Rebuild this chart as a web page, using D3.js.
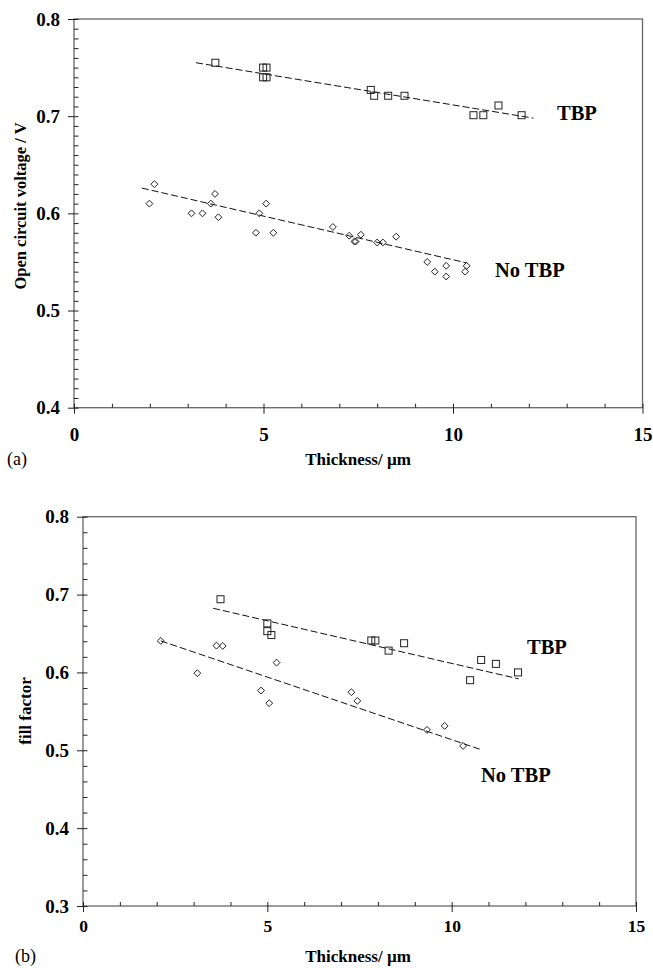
<!DOCTYPE html>
<html>
<head>
<meta charset="utf-8">
<script src="https://cdn.jsdelivr.net/npm/d3@7"></script>
<style>
  html, body { margin: 0; padding: 0; background: #fff; }
  svg { display: block; }
  text { font-family: "Liberation Serif", "Times New Roman", serif; fill: #000; }
</style>
</head>
<body>
<svg id="chart" width="653" height="968"></svg>
<script>
// ---- (a) open circuit voltage vs. film thickness ----
const vocTbpX   = [3.73, 4.99, 5.08, 4.99, 5.08, 7.83, 7.92, 8.29, 8.72, 10.54, 10.80, 11.20, 11.81];
const vocTbpY   = [0.755, 0.750, 0.750, 0.740, 0.740, 0.727, 0.721, 0.721, 0.721, 0.701, 0.701, 0.711, 0.701];
const vocNoTbpX = [1.99, 2.12, 3.10, 3.39, 3.61, 3.72, 3.81, 4.80, 4.89, 5.07, 5.26, 6.83, 7.26, 7.40, 7.43,
                   7.57, 8.00, 8.15, 8.50, 9.32, 9.52, 9.82, 9.82, 10.32, 10.36];
const vocNoTbpY = [0.610, 0.630, 0.600, 0.600, 0.610, 0.620, 0.596, 0.580, 0.600, 0.610, 0.580, 0.586, 0.577, 0.571, 0.571,
                   0.578, 0.570, 0.570, 0.576, 0.550, 0.540, 0.546, 0.535, 0.540, 0.546];
// linear fit end points [x0, y0, x1, y1]
const vocTbpFit   = [3.22, 0.755, 12.12, 0.698];
const vocNoTbpFit = [1.79, 0.626, 10.36, 0.549];

// ---- (b) fill factor vs. film thickness ----
const ffTbpX   = [3.73, 5.00, 5.00, 5.11, 7.82, 7.93, 8.29, 8.71, 10.50, 10.80, 11.20, 11.80];
const ffTbpY   = [0.694, 0.663, 0.653, 0.648, 0.641, 0.641, 0.628, 0.6375, 0.590, 0.616, 0.611, 0.600];
const ffNoTbpX = [2.11, 3.10, 3.62, 3.79, 4.83, 5.05, 5.25, 7.28, 7.44, 9.33, 9.81, 10.31];
const ffNoTbpY = [0.6405, 0.599, 0.6344, 0.634, 0.5767, 0.5605, 0.6126, 0.5746, 0.5634, 0.5262, 0.5313, 0.5056];
const ffTbpFit   = [3.53, 0.6824, 11.82, 0.5917];
const ffNoTbpFit = [2.11, 0.6405, 10.76, 0.5014];

// axis ticks
const xTicks     = [0, 5, 10, 15];
const xMinor     = d3.range(0, 15.001, 1);
const vocTicks   = [0.4, 0.5, 0.6, 0.7, 0.8];
const vocMinor   = d3.range(0, 41).map(i => 0.4 + i * 0.01);
const ffTicks    = [0.3, 0.4, 0.5, 0.6, 0.7, 0.8];
const ffMinor    = d3.range(0, 26).map(i => 0.3 + i * 0.02);

const svg = d3.select("#chart");

function zip(xs, ys) { return xs.map((x, i) => ({ x, y: ys[i] })); }

function panel(cfg) {
  const x = d3.scaleLinear().domain([0, 15]).range([cfg.left, cfg.right]);
  const y = d3.scaleLinear().domain(cfg.yDomain).range([cfg.bottom, cfg.top]);
  const g = svg.append("g");

  // frame
  g.append("rect")
    .attr("x", cfg.left).attr("y", cfg.top)
    .attr("width", cfg.right - cfg.left).attr("height", cfg.bottom - cfg.top)
    .attr("fill", "none").attr("stroke", "#666").attr("stroke-width", 1.3);

  // minor ticks (inside)
  g.append("g").attr("transform", `translate(${cfg.left},0)`)
    .call(d3.axisRight(y).tickValues(cfg.yMinor).tickSize(4.5).tickFormat(""))
    .call(s => s.select(".domain").remove())
    .call(s => s.selectAll("line").attr("stroke", "#222"));
  g.append("g").attr("transform", `translate(0,${cfg.bottom})`)
    .call(d3.axisTop(x).tickValues(xMinor).tickSize(4).tickFormat(""))
    .call(s => s.select(".domain").remove())
    .call(s => s.selectAll("line").attr("stroke", "#222"));

  // major ticks + labels
  const ya = g.append("g").attr("transform", `translate(${cfg.left},0)`)
    .call(d3.axisLeft(y).tickValues(cfg.yTicks).tickSize(6).tickPadding(8).tickFormat(d3.format(".1f")));
  ya.select(".domain").remove();
  ya.selectAll("line").attr("stroke", "#222");
  ya.selectAll("text").attr("font-size", 19).attr("font-weight", "bold");

  const xa = g.append("g").attr("transform", `translate(0,${cfg.bottom})`)
    .call(d3.axisBottom(x).tickValues(xTicks).tickSize(6).tickPadding(cfg.xPad).tickFormat(d3.format("d")));
  xa.select(".domain").remove();
  xa.selectAll("line").attr("stroke", "#222");
  xa.selectAll("text").attr("font-size", cfg.xFont).attr("font-weight", "bold");

  // fit lines
  [cfg.fitA, cfg.fitB].forEach(f => {
    g.append("line")
      .attr("x1", x(f[0])).attr("y1", y(f[1]))
      .attr("x2", x(f[2])).attr("y2", y(f[3]))
      .attr("stroke", "#111").attr("stroke-width", 1)
      .attr("stroke-dasharray", "7,3");
  });

  // squares: with TBP
  g.append("g").selectAll("rect")
    .data(zip(cfg.tbpX, cfg.tbpY)).join("rect")
    .attr("x", d => x(d.x) - 3.5).attr("y", d => y(d.y) - 3.5)
    .attr("width", 7).attr("height", 7)
    .attr("fill", "none").attr("stroke", "#222").attr("stroke-width", 1);

  // diamonds: without TBP
  const diamond = d3.symbol().type(d3.symbolDiamond2).size(30);
  g.append("g").selectAll("path")
    .data(zip(cfg.noX, cfg.noY)).join("path")
    .attr("transform", d => `translate(${x(d.x)},${y(d.y)})`)
    .attr("d", diamond)
    .attr("fill", "none").attr("stroke", "#222").attr("stroke-width", 1);

  // series labels
  g.append("text").attr("x", cfg.tbpLabel[0]).attr("y", cfg.tbpLabel[1])
    .attr("font-size", 20.5).attr("font-weight", "bold").text("TBP");
  g.append("text").attr("x", cfg.noLabel[0]).attr("y", cfg.noLabel[1])
    .attr("font-size", 20.5).attr("font-weight", "bold").text("No TBP");

  // axis titles
  g.append("text")
    .attr("transform", `translate(${cfg.yTitleX},${cfg.yTitleY}) rotate(-90)`)
    .attr("text-anchor", "middle").attr("font-size", cfg.yTitleSize).attr("font-weight", "bold")
    .text(cfg.yTitle);
  g.append("text").attr("x", 358).attr("y", cfg.xTitleY)
    .attr("text-anchor", "middle").attr("font-size", 17).attr("font-weight", "bold")
    .text("Thickness/ \u00b5m");
  g.append("text").attr("x", cfg.panelX).attr("y", cfg.xTitleY)
    .attr("font-size", 18).text(cfg.panel);
}

panel({
  left: 74, right: 642.5, top: 19, bottom: 407.7,
  yDomain: [0.4, 0.8], yTicks: vocTicks, yMinor: vocMinor,
  xPad: 14, xFont: 19,
  tbpX: vocTbpX, tbpY: vocTbpY, noX: vocNoTbpX, noY: vocNoTbpY,
  fitA: vocTbpFit, fitB: vocNoTbpFit,
  tbpLabel: [557, 120], noLabel: [495, 277],
  yTitle: "Open circuit voltage / V", yTitleX: 26, yTitleY: 206, yTitleSize: 16.5,
  xTitleY: 465, panel: "(a)", panelX: 7
});

panel({
  left: 83, right: 636, top: 516.7, bottom: 906,
  yDomain: [0.3, 0.8], yTicks: ffTicks, yMinor: ffMinor,
  xPad: 8, xFont: 17.5,
  tbpX: ffTbpX, tbpY: ffTbpY, noX: ffNoTbpX, noY: ffNoTbpY,
  fitA: ffTbpFit, fitB: ffNoTbpFit,
  tbpLabel: [527, 654], noLabel: [481, 782],
  yTitle: "fill factor", yTitleX: 31, yTitleY: 711, yTitleSize: 17,
  xTitleY: 962, panel: "(b)", panelX: 15
});
</script>
</body>
</html>
